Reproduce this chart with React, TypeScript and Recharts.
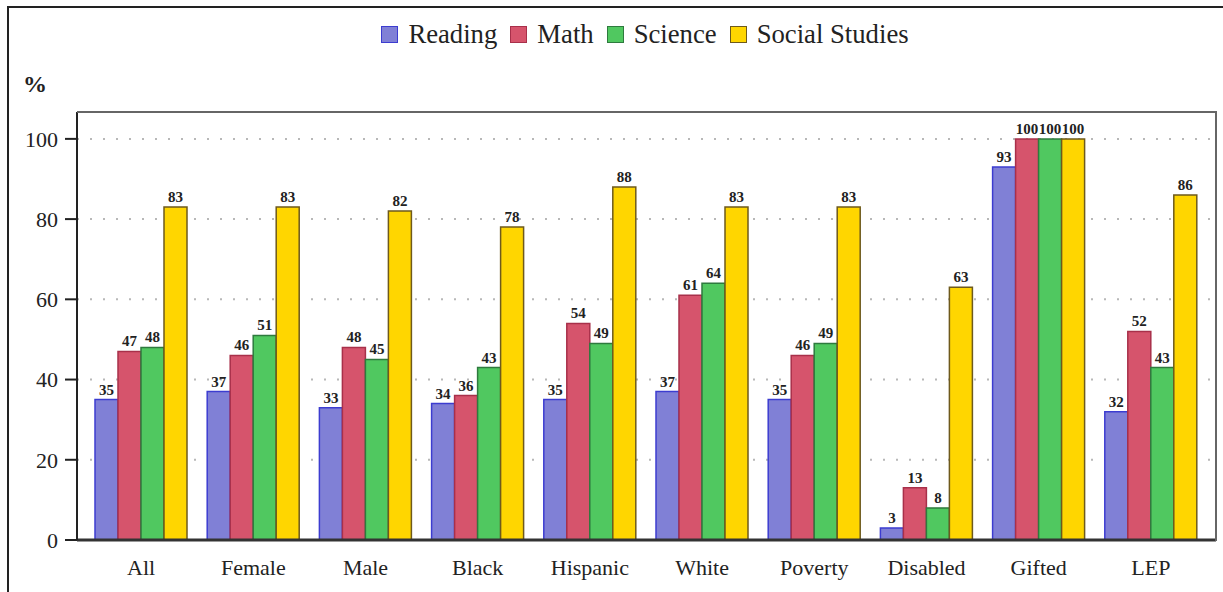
import React from "react";
import { BarChart, Bar, XAxis, YAxis, CartesianGrid, LabelList } from "recharts";

const groups = ["All", "Female", "Male", "Black", "Hispanic", "White", "Poverty", "Disabled", "Gifted", "LEP"];
const reading = [35, 37, 33, 34, 35, 37, 35, 3, 93, 32];
const math = [47, 46, 48, 36, 54, 61, 46, 13, 100, 52];
const science = [48, 51, 45, 43, 49, 64, 49, 8, 100, 43];
const socialStudies = [83, 83, 82, 78, 88, 83, 83, 63, 100, 86];
const yTicks = [0, 20, 40, 60, 80, 100];

const FONT = "'Liberation Serif', 'Times New Roman', serif";

const series = [
  { key: "reading", name: "Reading", fill: "#8080d6", stroke: "#3c3cd0" },
  { key: "math", name: "Math", fill: "#d6546c", stroke: "#a8304a" },
  { key: "science", name: "Science", fill: "#50c860", stroke: "#2e7a3e" },
  { key: "social", name: "Social Studies", fill: "#ffd600", stroke: "#6e5a1c" },
];

const data = groups.map((group, i) => ({
  group,
  reading: reading[i],
  math: math[i],
  science: science[i],
  social: socialStudies[i],
}));

// plot area in page pixels
const PLOT = { left: 77, top: 112, right: 1216, bottom: 540 };

function LegendRow() {
  return (
    <div
      style={{
        position: "absolute",
        top: 19,
        left: 0,
        width: 1223,
        display: "flex",
        justifyContent: "center",
        alignItems: "center",
        fontFamily: FONT,
        fontSize: 26.7,
        color: "#222",
        paddingLeft: 80,
        boxSizing: "border-box",
      }}
    >
      {series.map(s => (
        <div key={s.key} style={{ display: "flex", alignItems: "center", marginRight: 13 }}>
          <span
            style={{
              display: "inline-block",
              width: 15,
              height: 15,
              background: s.fill,
              border: `1.5px solid ${s.stroke}`,
              marginRight: 10,
            }}
          />
          <span>{s.name}</span>
        </div>
      ))}
    </div>
  );
}

export default function App() {
  return (
    <div style={{ position: "absolute", left: 0, top: 0, width: 1223, height: 592, background: "#fff" }}>
      <div
        style={{
          position: "absolute",
          left: 7,
          top: 6,
          width: 1216,
          height: 586,
          borderLeft: "2px solid #222",
          borderTop: "2px solid #222",
        }}
      />
      <LegendRow />
      <div style={{ position: "absolute", left: 23, top: 71, fontFamily: FONT, fontSize: 24, fontWeight: "bold", color: "#222" }}>%</div>
      <BarChart
        width={1223}
        height={592}
        data={data}
        margin={{ top: PLOT.top, right: 1223 - PLOT.right, left: 17, bottom: 22 }}
        barCategoryGap={10}
        barGap={0}
      >
        <CartesianGrid vertical={false} stroke="#b8b8b8" strokeWidth={2} strokeDasharray="2 11" />
        <XAxis
          dataKey="group"
          height={30}
          padding={{ left: 8, right: 9 }}
          tickLine={false}
          tickSize={0}
          tickMargin={19}
          axisLine={{ stroke: "#333", strokeWidth: 3 }}
          tick={{ fontFamily: FONT, fontSize: 22, fill: "#222" }}
        />
        <YAxis
          width={60}
          domain={[0, 106.7]}
          ticks={yTicks}
          tickSize={12}
          tickMargin={7}
          axisLine={{ stroke: "#222", strokeWidth: 2 }}
          tickLine={{ stroke: "#222", strokeWidth: 2 }}
          tick={{ fontFamily: FONT, fontSize: 22, fill: "#222" }}
        />
        {series.map(s => (
          <Bar key={s.key} dataKey={s.key} name={s.name} fill={s.fill} stroke={s.stroke} strokeWidth={1.5} isAnimationActive={false}>
            <LabelList dataKey={s.key} position="top" offset={5} style={{ fontFamily: FONT, fontSize: 15, fill: "#222", fontWeight: 600 }} />
          </Bar>
        ))}
      </BarChart>
      {/* thin frame on the top and right of the plot */}
      <div
        style={{
          position: "absolute",
          left: PLOT.left,
          top: PLOT.top - 1,
          width: PLOT.right - PLOT.left - 1,
          height: PLOT.bottom - PLOT.top,
          borderTop: "2px solid #666",
          borderRight: "2px solid #666",
          pointerEvents: "none",
        }}
      />
    </div>
  );
}
